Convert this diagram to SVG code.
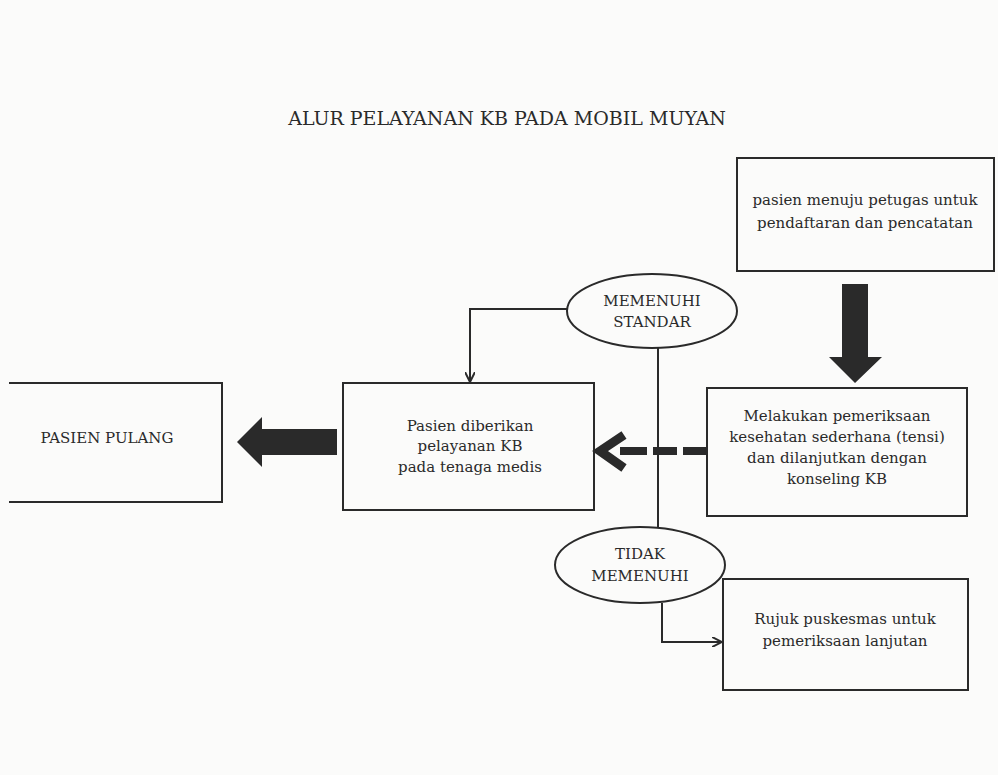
<svg xmlns="http://www.w3.org/2000/svg" width="998" height="775" viewBox="0 0 998 775">
<style>
.bg{fill:#fbfbfa}
.box{fill:none;stroke:#2a2a2a;stroke-width:2}
.ell{fill:#fbfbfa;stroke:#2a2a2a;stroke-width:2}
.t{font-family:"DejaVu Serif","Liberation Serif",serif;font-size:15px;fill:#2a2a2a;text-anchor:middle}
.ti{font-family:"DejaVu Serif","Liberation Serif",serif;font-size:19px;fill:#2a2a2a;text-anchor:middle}
.ln{fill:none;stroke:#2a2a2a;stroke-width:2}
.solid{fill:#2a2a2a}
</style>
<defs>
<marker id="ah" markerWidth="10" markerHeight="10" refX="9" refY="5" orient="auto" markerUnits="userSpaceOnUse">
<path d="M0,0 L10,5 L0,10" fill="none" stroke="#2a2a2a" stroke-width="2"/>
</marker>
</defs>
<rect class="bg" x="0" y="0" width="998" height="775"/>
<text class="ti" x="507" y="125">ALUR PELAYANAN KB PADA MOBIL MUYAN</text>

<g id="connectors">
<polygon class="solid" points="842,284 868,284 868,357 882,357 855,383 829,357 842,357"/>
<g stroke="#2a2a2a" stroke-width="8">
<line x1="683" y1="451" x2="706" y2="451"/>
<line x1="653" y1="451" x2="677" y2="451"/>
<line x1="620" y1="451" x2="647" y2="451"/>
</g>
<polyline points="624,435 600,451 624,468" fill="none" stroke="#2a2a2a" stroke-width="9" stroke-linejoin="miter"/>
<polygon class="solid" points="337,429 262,429 262,417 237,442 262,467 262,455 337,455"/>
<polyline class="ln" points="567,309 470,309 470,381" marker-end="url(#ah)"/>
<line class="ln" x1="658" y1="348" x2="658" y2="528"/>
<polyline class="ln" points="662,603 662,642 721,642" marker-end="url(#ah)"/>
</g>

<g id="n-daftar">
<rect class="box" x="737" y="158" width="257" height="113"/>
<text class="t" x="865" y="205">pasien menuju petugas untuk</text>
<text class="t" x="865" y="228">pendaftaran dan pencatatan</text>
</g>

<g id="n-periksa">
<rect class="box" x="707" y="388" width="260" height="128"/>
<text class="t" x="837" y="421">Melakukan pemeriksaan</text>
<text class="t" x="837" y="442">kesehatan sederhana (tensi)</text>
<text class="t" x="837" y="463">dan dilanjutkan dengan</text>
<text class="t" x="837" y="484">konseling KB</text>
</g>

<g id="n-layanan">
<rect class="box" x="343" y="383" width="251" height="127"/>
<text class="t" x="470" y="431">Pasien diberikan</text>
<text class="t" x="470" y="451">pelayanan KB</text>
<text class="t" x="470" y="472">pada tenaga medis</text>
</g>

<g id="n-pulang">
<polyline class="box" points="9,383 222,383 222,502 9,502"/>
<text class="t" x="107" y="443">PASIEN PULANG</text>
</g>

<g id="n-memenuhi">
<ellipse class="ell" cx="652" cy="311" rx="85" ry="37"/>
<text class="t" x="652" y="306">MEMENUHI</text>
<text class="t" x="652" y="327">STANDAR</text>
</g>

<g id="n-tidak">
<ellipse class="ell" cx="640" cy="565" rx="85" ry="38"/>
<text class="t" x="640" y="559">TIDAK</text>
<text class="t" x="640" y="581">MEMENUHI</text>
</g>

<g id="n-rujuk">
<rect class="box" x="723" y="579" width="245" height="111"/>
<text class="t" x="845" y="624">Rujuk puskesmas untuk</text>
<text class="t" x="845" y="646">pemeriksaan lanjutan</text>
</g>
</svg>
